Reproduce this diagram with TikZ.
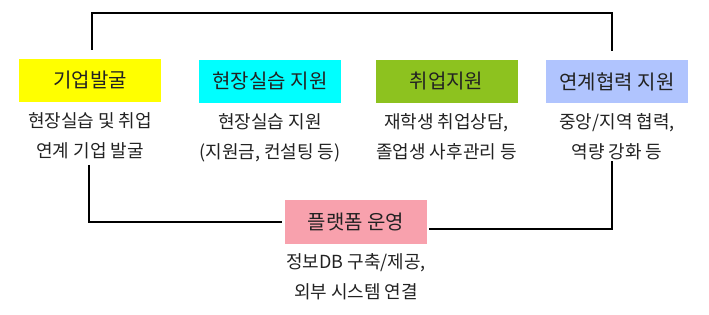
\documentclass[tikz,border=0pt]{standalone}
\usepackage{fontspec}
\setmainfont{Noto Sans CJK KR}
\usetikzlibrary{positioning}

\definecolor{boxYellow}{HTML}{FFFF00}
\definecolor{boxCyan}{HTML}{00FFFF}
\definecolor{boxGreen}{HTML}{8DC21F}
\definecolor{boxBlue}{HTML}{B0C4FE}
\definecolor{boxPink}{HTML}{F8A1AD}
\definecolor{txtDark}{HTML}{222222}

\begin{document}
\begin{tikzpicture}[x=1pt, y=-1pt,
  node distance=10pt,
  box/.style={draw=none, minimum width=142pt, minimum height=43pt,
              inner sep=0pt, font=\fontsize{20}{23}\selectfont, text=txtDark},
  desc/.style={align=center, inner sep=0pt, text=txtDark,
               font=\fontsize{18}{30}\selectfont},
  link/.style={black, line width=2.5pt}
]
\useasboundingbox (0,0) rectangle (709,315);

\node[box, fill=boxYellow] (corp)  at (90,80.5)   {기업발굴};
\node[box, fill=boxCyan]   (field) at (270,81.5)  {현장실습 지원};
\node[box, fill=boxGreen]  (job)   at (446.5,81.5) {취업지원};
\node[box, fill=boxBlue]   (coop)  at (617,81.5)  {연계협력 지원};
\node[box, fill=boxPink]   (plat)  at (356,222)   {플랫폼 운영};

\node[desc, below=of corp]  (corpD)  {현장실습 및 취업\\연계 기업 발굴};
\node[desc, below=of field] (fieldD) {현장실습 지원\\(지원금, 컨설팅 등)};
\node[desc, below=of job]   (jobD)   {재학생 취업상담,\\졸업생 사후관리 등};
\node[desc, below=of coop]  (coopD)  {중앙/지역 협력,\\역량 강화 등};
\node[desc, below=of plat]  (platD)  {정보DB 구축/제공,\\외부 시스템 연결};

% links
\draw[link] ([xshift=2pt,yshift=9pt]corp.north) -- ++(0,-37) -| ([xshift=-5pt,yshift=9pt]coop.north);
\draw[link] ([xshift=-1pt,yshift=-6pt]corpD.south) |- ([xshift=-3pt]plat.west);
\draw[link] ([xshift=2pt,yshift=-7pt]plat.east) -| ([xshift=-5pt,yshift=-1pt]coopD.south);
\end{tikzpicture}
\end{document}
